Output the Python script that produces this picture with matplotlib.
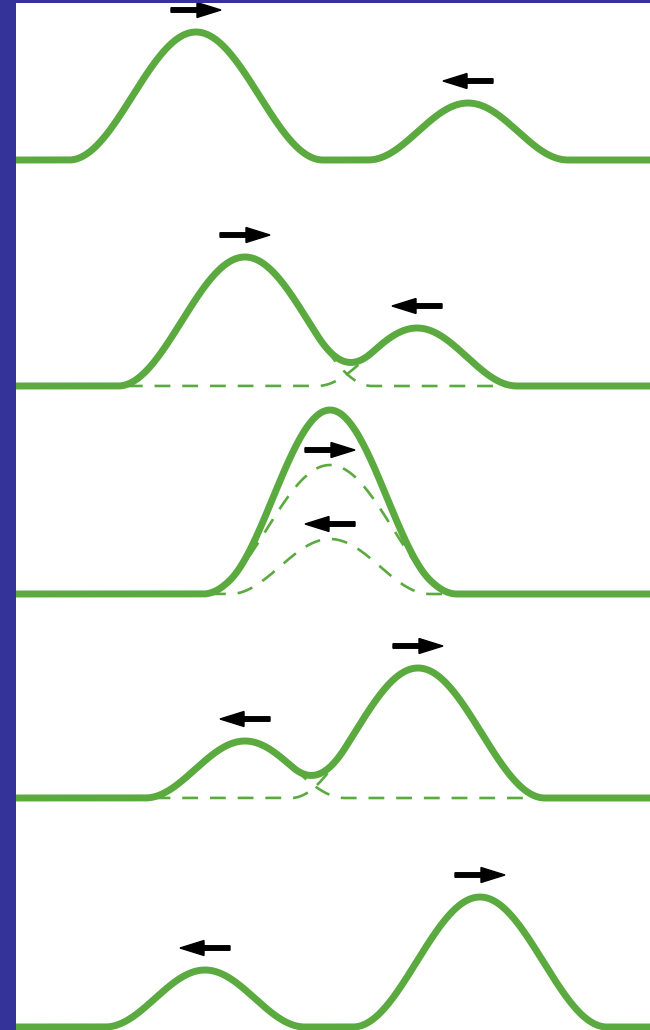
import matplotlib.pyplot as plt
import numpy as np

# five snapshots of two pulses passing through each other (pixel units of the drawing)
baselines = [160, 386, 594, 798, 1027]
big_centres = [196, 245, 330, 418, 480]
small_centres = [468, 417, 330, 245, 205]
big_heights = [128, 129, 129, 130, 130]
small_heights = [57, 58, 55, 57, 57]
big_halfwidth = 127
small_halfwidth = 100
show_parts = [False, True, True, True, False]

GREEN = '#5BAA3F'
BLUE = '#333399'
ARROW_HALF = 25


def pulse(x, centre, height, halfwidth):
    u = np.clip((x - centre) / halfwidth, -1, 1)
    return height * (1 + np.cos(np.pi * u)) / 2


fig = plt.figure(figsize=(6.5, 10.3), dpi=100, facecolor=BLUE)
ax = fig.add_axes([16 / 650, 0, 634 / 650, 1027 / 1030])
ax.set_facecolor('white')
ax.set_xlim(16, 650)
ax.set_ylim(1030, 3)
ax.set_xticks([])
ax.set_yticks([])
for s in ax.spines.values():
    s.set_visible(False)

x = np.linspace(16, 650, 1300)
for i, base in enumerate(baselines):
    big = pulse(x, big_centres[i], big_heights[i], big_halfwidth)
    small = pulse(x, small_centres[i], small_heights[i], small_halfwidth)
    if show_parts[i]:
        for part in (big, small):
            ax.plot(x, base - part, color=GREEN, lw=1.9, dashes=(6, 4.5), zorder=2)
    ax.plot(x, base - (big + small), color=GREEN, lw=5, zorder=3,
            solid_capstyle='butt')

    gap = 15 if show_parts[i] and big_centres[i] == small_centres[i] else 22
    # big pulse travels right, small pulse travels left
    for c, h, d in ((big_centres[i], big_heights[i], 1),
                    (small_centres[i], small_heights[i], -1)):
        y = base - h - gap
        ax.arrow(c - d * ARROW_HALF, y, 2 * d * ARROW_HALF, 0, width=4.5,
                 head_width=15, head_length=24, length_includes_head=True,
                 color='black', zorder=4)

fig.savefig('out.png', dpi=100, facecolor=BLUE)
